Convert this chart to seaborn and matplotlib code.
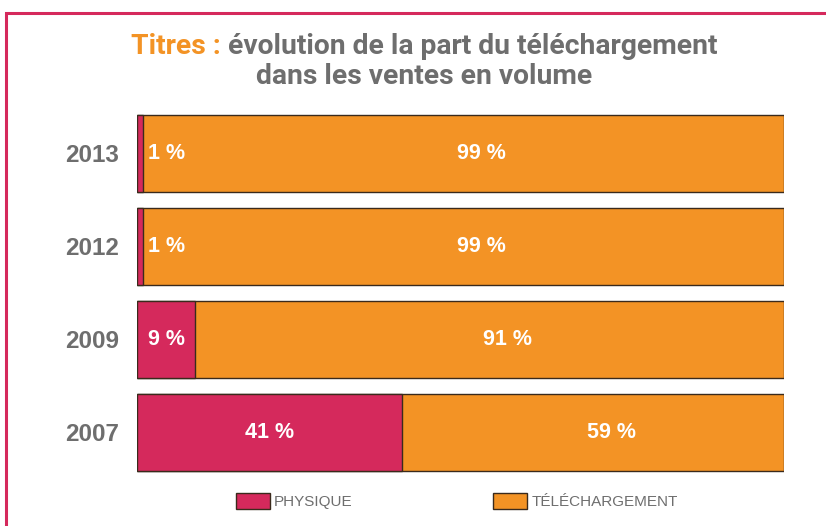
import matplotlib.pyplot as plt
import pandas as pd
import seaborn as sns
from matplotlib.patches import Patch, Rectangle

# Data
years = ["2013", "2012", "2009", "2007"]
physique = [1, 1, 9, 41]
telechargement = [99, 99, 91, 59]

PINK = "#D5295C"
ORANGE = "#F39325"
GRAY = "#6E6E6E"
EDGE = "#3A2A1C"

df = pd.DataFrame({"year": years, "physique": physique, "telechargement": telechargement})
df["total"] = df["physique"] + df["telechargement"]

sns.set_style("white")
plt.rcParams["font.family"] = ["Liberation Sans", "DejaVu Sans"]

fig = plt.figure(figsize=(8.26, 5.26), dpi=100)
ax = fig.add_axes([137 / 826, 1 - 478.5 / 526, (784 - 137) / 826, (478.5 - 107) / 526])

# stacked bars: full bar first (orange), then physique share on top (pink)
sns.barplot(data=df, x="total", y="year", order=years, orient="h", color=ORANGE,
            width=0.83, edgecolor=EDGE, linewidth=1, saturation=1, ax=ax)
sns.barplot(data=df, x="physique", y="year", order=years, orient="h", color=PINK,
            width=0.83, edgecolor=EDGE, linewidth=1, saturation=1, ax=ax)

ax.set_xlim(0, 100)
ax.set_xlabel("")
ax.set_ylabel("")
ax.set_xticks([])
for s in ax.spines.values():
    s.set_visible(False)
ax.tick_params(axis="y", length=0, pad=13)
for lbl in ax.get_yticklabels():
    lbl.set_fontsize(17.5)
    lbl.set_fontweight("bold")
    lbl.set_color(GRAY)

# value labels
for i, row in df.iterrows():
    p, t = row["physique"], row["telechargement"]
    if p < 5:
        ax.text(p + 0.7, i, f"{p} %", ha="left", va="center", color="white",
                fontsize=15.5, fontweight="bold")
    else:
        ax.text(p / 2, i, f"{p} %", ha="center", va="center", color="white",
                fontsize=15.5, fontweight="bold")
    ax.annotate(f"{t} %", xy=(p + t / 2, i), xytext=(13, 0), textcoords="offset points",
                ha="center", va="center", color="white", fontsize=15.5, fontweight="bold")

# title, two colours on the first line; size fitted to the reference width
tfont = ["Roboto", "DejaVu Sans"]
t1 = fig.text(0, 1 - 46 / 526, "Titres : ", ha="left", va="center",
              color=ORANGE, fontsize=19, fontweight="bold", family=tfont)
t2 = fig.text(0, 1 - 46 / 526, "évolution de la part du téléchargement", ha="left",
              va="center", color=GRAY, fontsize=19, fontweight="bold", family=tfont)
t3 = fig.text(424 / 826, 1 - 76 / 526, "dans les ventes en volume", ha="center",
              va="center", color=GRAY, fontsize=19, fontweight="bold", family=tfont)
r = fig.canvas.get_renderer()
w = t1.get_window_extent(r).width + t2.get_window_extent(r).width
size = 19 * 588 / w
for t in (t1, t2, t3):
    t.set_fontsize(size)
w1 = t1.get_window_extent(r).width
w2 = t2.get_window_extent(r).width
x0 = 424 - (w1 + w2) / 2
t1.set_x(x0 / 826)
t2.set_x((x0 + w1) / 826)

# legend
handles = [Patch(facecolor=PINK, edgecolor=EDGE, label="PHYSIQUE"),
           Patch(facecolor=ORANGE, edgecolor=EDGE, label="TÉLÉCHARGEMENT")]
fig.legend(handles=handles, loc="center", bbox_to_anchor=(457 / 826, 1 - 501 / 526),
           ncol=2, frameon=False, fontsize=11, labelcolor=GRAY, handlelength=2.2,
           handleheight=1.2, handletextpad=0.3, columnspacing=9.2)

# pink frame open on the right and bottom
fig.patches.append(Rectangle((6 / 826, -0.1), 1.2, 1 - 13 / 526 + 0.1, fill=False,
                             edgecolor=PINK, linewidth=2.2, transform=fig.transFigure,
                             figure=fig))

fig.savefig("out.png", dpi=100)
